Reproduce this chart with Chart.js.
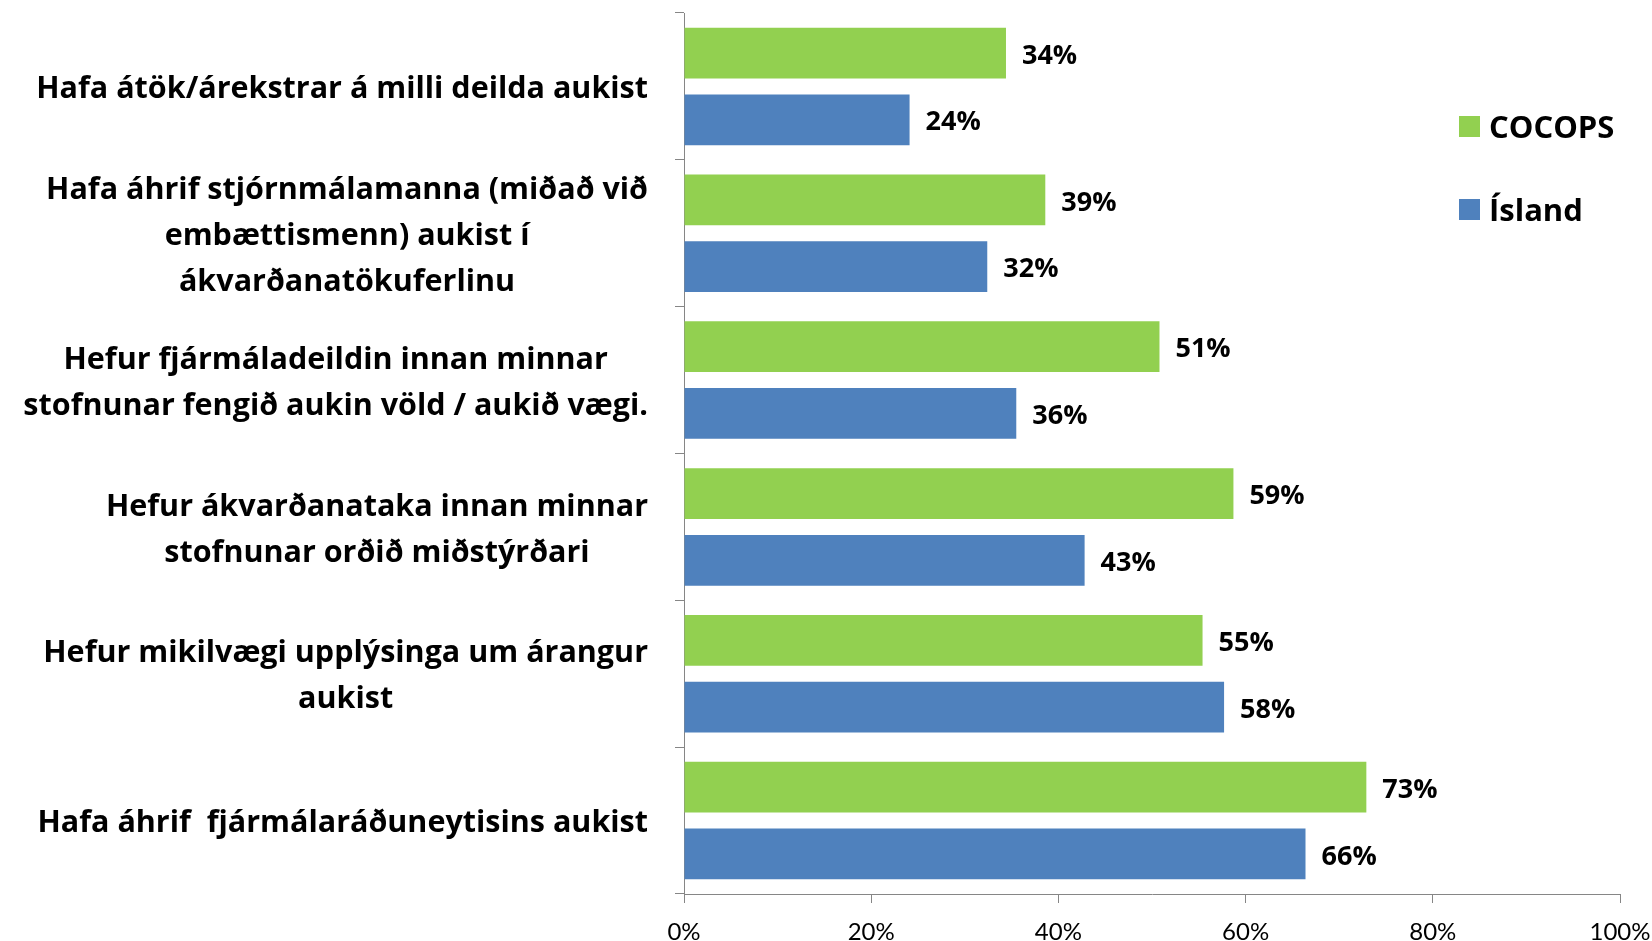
<!DOCTYPE html>
<html>
<head>
<meta charset="utf-8">
<script src="https://cdn.jsdelivr.net/npm/chart.js@4.4.0/dist/chart.umd.min.js"></script>
<style>
  html, body { margin: 0; padding: 0; background: #fff; }
  #wrap { width: 1652px; height: 941px; }
</style>
</head>
<body>
<div id="wrap"><canvas id="chart"></canvas></div>
<script>
// categories, top to bottom (lines as broken in the original)
const categories = [
  ['Hafa átök/árekstrar á milli deilda aukist'],
  ['Hafa áhrif stjórnmálamanna (miðað við', 'embættismenn) aukist í', 'ákvarðanatökuferlinu'],
  ['Hefur fjármáladeildin innan minnar', 'stofnunar fengið aukin völd / aukið vægi.'],
  ['Hefur ákvarðanataka innan minnar', 'stofnunar orðið miðstýrðari'],
  ['Hefur mikilvægi upplýsinga um árangur', 'aukist'],
  ['Hafa áhrif  fjármálaráðuneytisins aukist']
];
const seriesNames = ['COCOPS', 'Ísland'];
const cocopsValues = [34.4, 38.6, 50.8, 58.7, 55.4, 72.9];
const islandValues = [24.1, 32.4, 35.5, 42.8, 57.7, 66.4];
const xTickValues = [0, 20, 40, 60, 80, 100];

const green = '#92D050';
const blue = '#4F81BD';
const axisGrey = '#868686';
const boldFont = '"Open Sans"';

Chart.defaults.font.family = 'Lato';

// category labels: block right-aligned to the axis, lines centred inside block
const yLabels = {
  id: 'yLabels',
  afterDraw(chart) {
    const ctx = chart.ctx;
    const y = chart.scales.y;
    ctx.save();
    ctx.font = 'bold 30.5px ' + boldFont;
    ctx.fillStyle = '#000';
    ctx.textAlign = 'center';
    ctx.textBaseline = 'middle';
    const right = y.right - 36;
    const lh = 46;
    chart.data.labels.forEach((lines, i) => {
      const cy = y.getPixelForTick(i) + 3;
      const w = Math.max(...lines.map(l => ctx.measureText(l).width));
      const cx = right - w / 2;
      lines.forEach((l, j) => {
        ctx.fillText(l, cx, cy + (j - (lines.length - 1) / 2) * lh);
      });
    });
    ctx.restore();
  }
};

// value labels at the end of each bar
const barValues = {
  id: 'barValues',
  afterDatasetsDraw(chart) {
    const ctx = chart.ctx;
    ctx.save();
    ctx.font = 'bold 27px ' + boldFont;
    ctx.fillStyle = '#000';
    ctx.textAlign = 'left';
    ctx.textBaseline = 'middle';
    chart.data.datasets.forEach((ds, i) => {
      chart.getDatasetMeta(i).data.forEach((bar, j) => {
        ctx.fillText(Math.round(ds.data[j]) + '%', bar.x + 16, bar.y + 3);
      });
    });
    ctx.restore();
  }
};

// legend sitting inside the plot, upper right
const sideLegend = {
  id: 'sideLegend',
  afterDraw(chart) {
    const ctx = chart.ctx;
    ctx.save();
    ctx.font = 'bold 31px ' + boldFont;
    ctx.textBaseline = 'middle';
    ctx.textAlign = 'left';
    chart.data.datasets.forEach((ds, i) => {
      const cy = 126 + i * 83;
      ctx.fillStyle = ds.backgroundColor;
      ctx.fillRect(1459, cy - 10, 21, 21);
      ctx.fillStyle = '#000';
      ctx.fillText(ds.label, 1489, cy + 3);
    });
    ctx.restore();
  }
};

new Chart(document.getElementById('chart'), {
  type: 'bar',
  data: {
    labels: categories,
    datasets: [
      {
        label: seriesNames[0],
        data: cocopsValues,
        backgroundColor: green,
        categoryPercentage: 0.909,
        barPercentage: 0.761
      },
      {
        label: seriesNames[1],
        data: islandValues,
        backgroundColor: blue,
        categoryPercentage: 0.909,
        barPercentage: 0.761
      }
    ]
  },
  options: {
    indexAxis: 'y',
    responsive: true,
    maintainAspectRatio: false,
    animation: false,
    devicePixelRatio: 1,
    layout: { padding: { top: 13, right: 32, left: 0, bottom: 0 } },
    plugins: {
      legend: { display: false },
      tooltip: { enabled: false }
    },
    scales: {
      x: {
        min: 0,
        max: 100,
        afterBuildTicks: s => { s.ticks = xTickValues.map(v => ({ value: v })); },
        afterFit: s => { s.height = 47; s.paddingLeft = 0; s.paddingRight = 0; },
        ticks: {
          callback: v => v + '%',
          color: '#000',
          font: { size: 24 },
          padding: 15,
          maxRotation: 0
        },
        grid: { drawOnChartArea: false, drawTicks: true, tickLength: 9, color: axisGrey },
        border: { color: axisGrey, width: 1 }
      },
      y: {
        ticks: { display: false },
        afterFit: s => { s.width = 684; },
        grid: { drawOnChartArea: false, drawTicks: true, tickLength: 9, color: axisGrey, offset: true },
        border: { color: axisGrey, width: 1 }
      }
    }
  },
  plugins: [yLabels, barValues, sideLegend]
});
</script>
</body>
</html>
